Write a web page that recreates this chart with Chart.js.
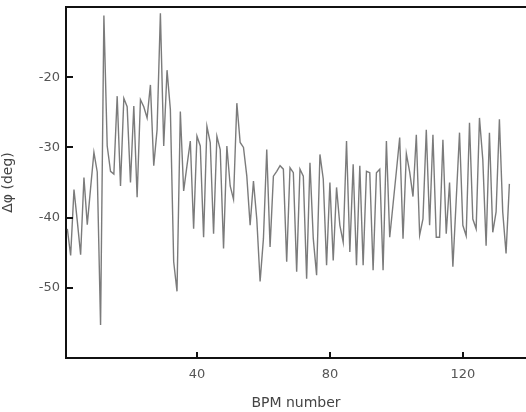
<!DOCTYPE html>
<html>
<head>
<meta charset="utf-8">
<script src="https://cdn.jsdelivr.net/npm/chart.js@4/dist/chart.umd.min.js"></script>
<style>
  html, body { margin: 0; padding: 0; background: #fff; }
  #wrap { width: 526px; height: 412px; position: relative; }
</style>
</head>
<body>
<div id="wrap"><canvas id="chart"></canvas></div>
<script>
// phase difference per BPM (deg)
var phase = [
  -41.6, -45.4, -36.0, -40.5, -45.3, -34.3, -41.0, -35.8, -30.7, -33.5,
  -55.3, -11.2, -29.8, -33.4, -33.8, -22.7, -35.5, -23.0, -24.2, -35.0,
  -24.1, -37.1, -23.2, -24.2, -25.8, -21.1, -32.6, -27.5, -10.9, -29.8,
  -19.0, -24.6, -46.3, -50.5, -24.9, -36.2, -32.6, -29.1, -41.6, -28.4,
  -29.8, -42.8, -27.0, -29.3, -42.3, -28.4, -30.3, -44.4, -29.8, -35.5,
  -37.4, -23.7, -29.3, -30.0, -34.1, -41.1, -34.8, -40.2, -49.1, -43.0,
  -30.3, -44.2, -34.1, -33.4, -32.6, -33.1, -46.3, -32.9, -33.6, -47.7,
  -33.1, -34.1, -48.7, -32.2, -43.0, -48.2, -31.0, -34.5, -46.8, -35.0,
  -46.1, -35.7, -41.1, -43.5, -29.1, -44.9, -32.4, -46.8, -32.6, -46.8,
  -33.4, -33.6, -47.5, -33.6, -33.1, -47.5, -29.1, -42.8, -38.1, -33.4,
  -28.6, -43.0, -30.9, -33.5, -37.0, -28.2, -42.5, -40.2, -27.5, -41.1,
  -28.2, -42.8, -42.8, -28.9, -42.3, -35.0, -47.0, -37.5, -27.9, -41.1,
  -42.6, -26.5, -40.2, -41.6, -25.8, -31.7, -44.0, -27.9, -42.1, -39.2,
  -26.0, -39.2, -45.1, -35.2
];
var xTicks = [40, 80, 120];
var yTicks = [-50, -40, -30, -20];

var points = [];
for (var i = 0; i < phase.length; i++) {
    points.push({ x: i + 1, y: phase[i] });
}

var font = "'DejaVu Sans', sans-serif";

// short tick marks drawn inside the frame
var innerTicks = {
    id: 'innerTicks',
    afterDraw: function (chart) {
        var ctx = chart.ctx;
        var xs = chart.scales.x, ys = chart.scales.y;
        var area = chart.chartArea;
        ctx.save();
        ctx.strokeStyle = '#111';
        ctx.lineWidth = 2;
        ctx.beginPath();
        xTicks.forEach(function (v) {
            var px = Math.round(xs.getPixelForValue(v));
            ctx.moveTo(px, area.bottom);
            ctx.lineTo(px, area.bottom - 6);
        });
        yTicks.forEach(function (v) {
            var py = Math.round(ys.getPixelForValue(v));
            ctx.moveTo(area.left, py);
            ctx.lineTo(area.left + 7, py);
        });
        ctx.stroke();
        ctx.restore();
    }
};

function noPad(s) {
    s.paddingTop = 0; s.paddingBottom = 0; s.paddingLeft = 0; s.paddingRight = 0;
}

new Chart(document.getElementById('chart'), {
    type: 'line',
    data: {
        datasets: [{
            data: points,
            borderColor: 'rgba(90,90,90,0.8)',
            borderWidth: 1.4,
            pointRadius: 0,
            tension: 0,
            fill: false
        }]
    },
    options: {
        responsive: true,
        maintainAspectRatio: false,
        animation: false,
        layout: { padding: 0 },
        plugins: { legend: { display: false }, tooltip: { enabled: false } },
        scales: {
            x: {
                type: 'linear',
                position: 'bottom',
                min: 0.6,
                max: 139,
                afterBuildTicks: function (s) { s.ticks = xTicks.map(function (v) { return { value: v }; }); },
                afterFit: function (s) { s.height = 54; noPad(s); },
                grid: { display: false, drawTicks: false },
                border: { display: true, color: '#111', width: 2 },
                ticks: { color: '#555', padding: 9, font: { family: font, size: 13 } },
                title: { display: true, text: 'BPM number', color: '#444', padding: { top: 4, bottom: 0 }, font: { family: font, size: 14 } }
            },
            x2: {
                type: 'linear',
                position: 'top',
                min: 0.6,
                max: 139,
                afterFit: function (s) { s.height = 7; noPad(s); },
                grid: { display: false, drawTicks: false },
                border: { display: true, color: '#111', width: 2 },
                ticks: { display: false }
            },
            y: {
                type: 'linear',
                min: -60,
                max: -10,
                afterBuildTicks: function (s) { s.ticks = yTicks.map(function (v) { return { value: v }; }); },
                afterFit: function (s) { s.width = 66; noPad(s); },
                grid: { display: false, drawTicks: false },
                border: { display: true, color: '#111', width: 2 },
                ticks: { color: '#555', padding: 6, font: { family: font, size: 13 } },
                title: { display: true, text: 'Δφ (deg)', color: '#444', padding: { top: 0, bottom: 6 }, font: { family: font, size: 14 } }
            }
        }
    },
    plugins: [innerTicks]
});
</script>
</body>
</html>
